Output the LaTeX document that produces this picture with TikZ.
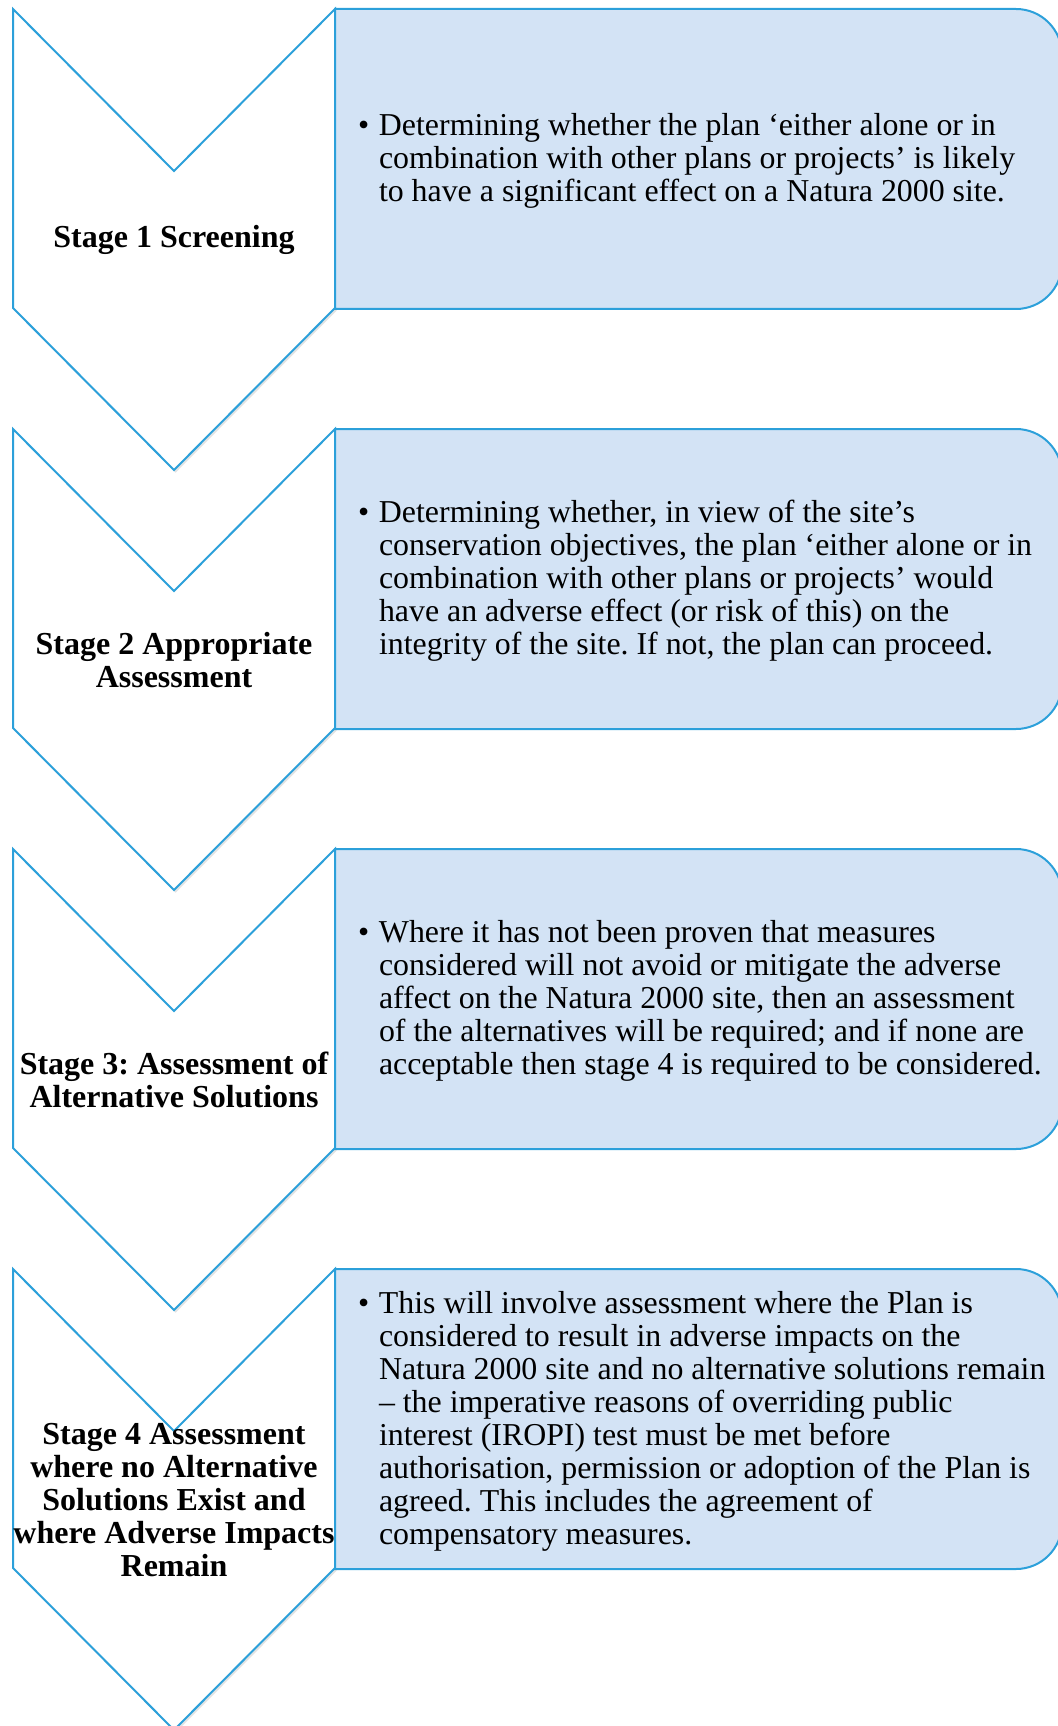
\documentclass[tikz,border=0pt]{standalone}
\usepackage{fontspec}
\setmainfont{Liberation Serif}
\usepackage{tikz}
\usetikzlibrary{shadows}
\definecolor{stageblue}{RGB}{44,160,218}
\definecolor{boxfill}{RGB}{211,227,245}
\newcommand{\bul}{\llap{\makebox[15.75pt][l]{\textbullet}}}

\begin{document}
\begin{tikzpicture}
  [x=0.75pt,y=-0.75pt,line width=1.5pt,
   chevron/.style={draw=stageblue,fill=white,line join=miter,
     drop shadow={opacity=.22,shadow xshift=1.2pt,shadow yshift=-2pt}},
   stagebox/.style={draw=stageblue,fill=boxfill},
   stagelabel/.style={align=center,inner sep=0pt,
     font=\bfseries\fontsize{24pt}{24.75pt}\selectfont\frenchspacing},
   bullettext/.style={anchor=west,align=left,inner sep=0pt,
     font=\fontsize{23.9pt}{24.75pt}\selectfont\frenchspacing}]
  \useasboundingbox (0,0) rectangle (1057,1726);

  \foreach \i/\T in {1/9,2/429,3/849,4/1269}
  {
    \draw[chevron] (13,\T) -- (174,\T+162) -- (335,\T) -- (335,\T+299)
      -- (174,\T+461) -- (13,\T+299) -- cycle;
    \draw[stagebox] (335,\T) -- (1016,\T)
      .. controls (1041.4,\T) and (1062,\T+20.6) .. (1062,\T+46)
      -- (1062,\T+254)
      .. controls (1062,\T+279.4) and (1041.4,\T+300) .. (1016,\T+300)
      -- (335,\T+300) -- cycle;
  }

  \node[stagelabel] (lab1) at (174,240) {Stage 1 Screening};
  \node[stagelabel] (lab2) at (174,660) {Stage 2 Appropriate\\Assessment};
  \node[stagelabel] (lab3) at (174,1080) {Stage 3: Assessment of\\Alternative Solutions};
  \node[stagelabel] (lab4) at (174,1500) {Stage 4 Assessment\\where no Alternative\\Solutions Exist and\\where Adverse Impacts\\Remain};

  \node[bullettext] (txt1) at (378,161) {\bul Determining whether the plan ‘either alone or in\\
    combination with other plans or projects’ is likely\\
    to have a significant effect on a Natura 2000 site.};
  \node[bullettext] (txt2) at (378,581) {\bul Determining whether, in view of the site’s\\
    conservation objectives, the plan ‘either alone or in\\
    combination with other plans or projects’ would\\
    have an adverse effect (or risk of this) on the\\
    integrity of the site. If not, the plan can proceed.};
  \node[bullettext] (txt3) at (378,1001) {\bul Where it has not been proven that measures\\
    considered will not avoid or mitigate the adverse\\
    affect on the Natura 2000 site, then an assessment\\
    of the alternatives will be required; and if none are\\
    acceptable then stage 4 is required to be considered.};
  \node[bullettext] (txt4) at (378,1421) {\bul This will involve assessment where the Plan is\\
    considered to result in adverse impacts on the\\
    Natura 2000 site and no alternative solutions remain\\
    – the imperative reasons of overriding public\\
    interest (IROPI) test must be met before\\
    authorisation, permission or adoption of the Plan is\\
    agreed. This includes the agreement of\\
    compensatory measures.};
\end{tikzpicture}
\end{document}
